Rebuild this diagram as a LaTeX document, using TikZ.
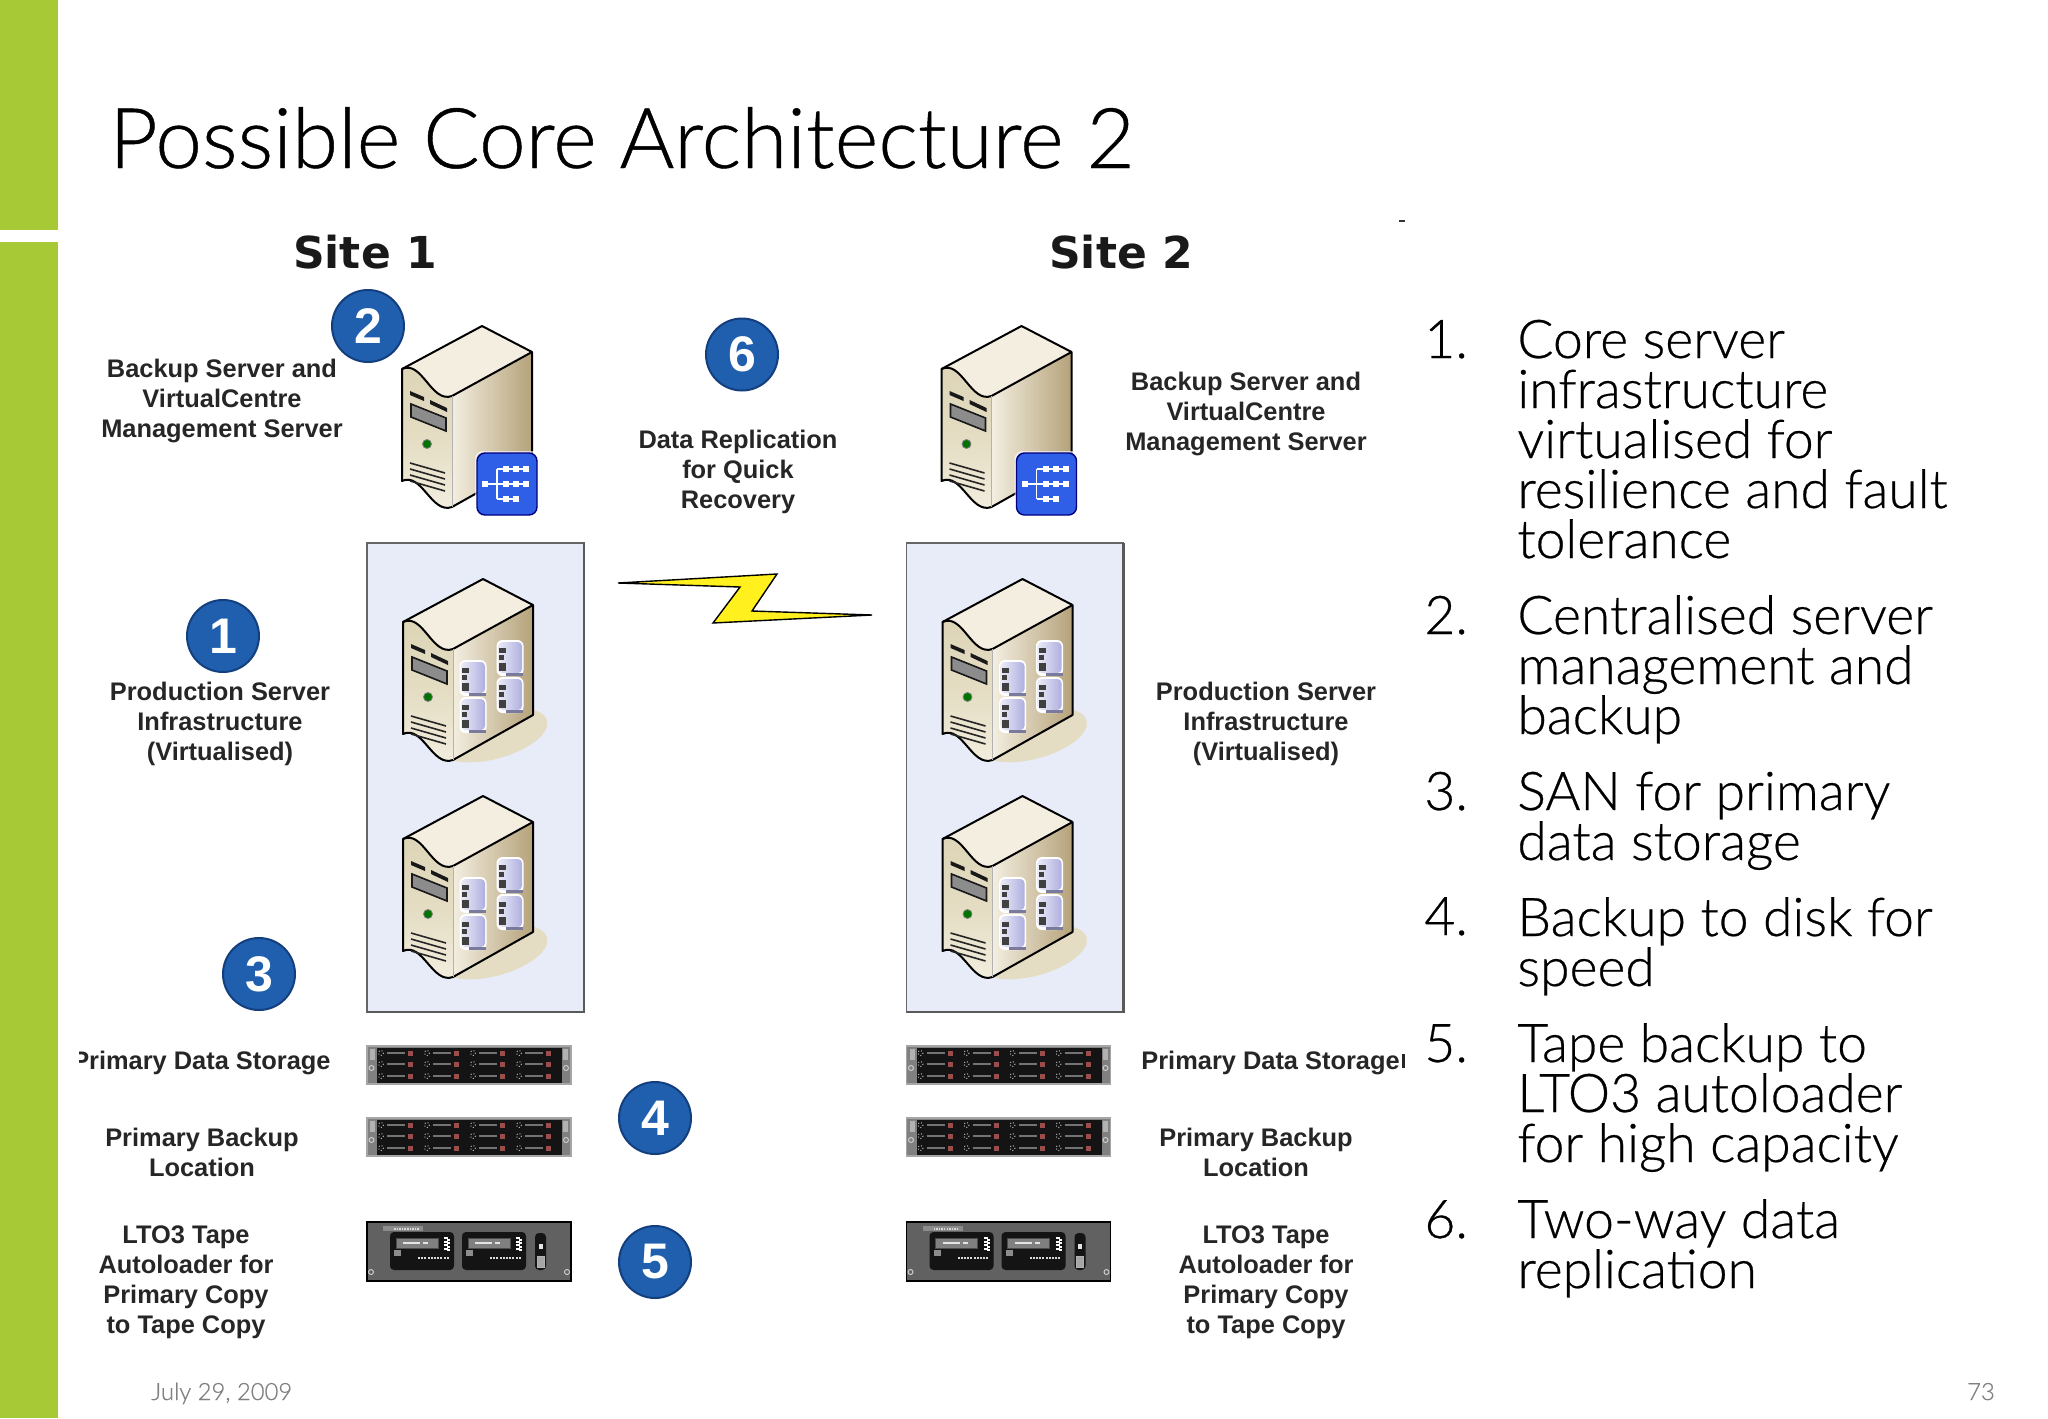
\documentclass[tikz,border=0pt]{standalone}
\usepackage{fontspec}
\setmainfont[RawFeature={embolden=0.5}]{Lato Light}
\newfontfamily\lab{Liberation Sans}
\newfontfamily\vb{DejaVu Sans}
\usetikzlibrary{shadings}
\definecolor{grn}{HTML}{A6C935}
\definecolor{badgeblue}{HTML}{1F5FAE}
\definecolor{badgeedge}{HTML}{143F7E}
\definecolor{bluebox}{HTML}{E7ECF8}
\definecolor{flash}{HTML}{FFF01E}
\definecolor{tan1}{HTML}{F3EEE0}
\definecolor{tan2}{HTML}{B5A27A}
\definecolor{tan3}{HTML}{DDD4B6}
\definecolor{tan4}{HTML}{E4DDC3}
\definecolor{iconblue}{HTML}{2E5FE6}
\definecolor{lav}{HTML}{AFAFE0}
\tikzset{
  x=0.5pt,y=-0.5pt,
  badge/.style={circle,fill=badgeblue,draw=badgeedge,line width=1pt,minimum size=36pt,inner sep=0pt,text=white,font={\lab\bfseries\fontsize{25}{25}\selectfont}},
  lbl/.style={align=center,inner sep=0pt,text=black!85,font={\lab\bfseries\fontsize{12.7}{15}\selectfont}},
  sitet/.style={inner sep=0pt,font={\vb\bfseries\fontsize{22}{24}\selectfont},text=black!90},
  li/.style={anchor=base west,inner sep=0pt,align=left,text=black,font={\lineskiplimit=-30pt\fontsize{26.7}{25}\selectfont}},
  num/.style={anchor=base west,inner sep=0pt,text=black,font={\fontsize{26.7}{25}\selectfont}},
  edge/.style={draw=black,line width=1pt,line join=round},
  vent/.style={draw=black!85,line width=0.8pt},
  tower/.pic={
    \fill[tan1] (0,0)--(50,26)--(-30,70) to[out=200,in=25] (-80,43)--cycle;
    \shade[left color=tan1,right color=tan2,shading angle=90] (50,26)--(50,136)--(-30,181)--(-30,70)--cycle;
    \shade[top color=tan3,bottom color=tan1,middle color=tan4] (-80,43) to[out=25,in=200] (-30,70)--(-30,181) to[out=200,in=25] (-80,155)--cycle;
    \draw[edge] (0,0)--(50,26)--(50,136)--(-30,181) to[out=200,in=25] (-80,155)--(-80,43)--cycle;
    \draw[edge] (-80,43) to[out=25,in=200] (-30,70)--(50,26);
    \draw[draw=black!30,line width=0.5pt] (-30,70)--(-30,181);
    \fill[black!90] (-72,65)--(-58,71)--(-58,75)--(-72,69)--cycle;
    \fill[black!90] (-52,74)--(-35,82)--(-35,86)--(-52,78)--cycle;
    \fill[black!45,draw=black!90,line width=0.8pt] (-71,78)--(-36,92)--(-36,105)--(-71,91)--cycle;
    \fill[green!45!black,draw=black!50,line width=0.4pt] (-55,118) circle (4.5);
    \foreach \d in {0,6,12,18}{\draw[vent] (-72,137+\d)--(-37,147+\d);}
  },
  minidisk/.pic={
    \fill[white,rounded corners=3pt] (-13.5,-18) rectangle (13.5,18);
    \shade[left color=lav!25,right color=lav,rounded corners=2pt] (-12,-16) rectangle (12,15);
    \fill[black!75] (-11,-10) rectangle (-4,-5);
    \fill[black!75] (-11,-3) rectangle (-6,2);
    \fill[black!75] (-11,5) rectangle (-4,13);
    \fill[lav!70!black] (-4,15) rectangle (13,18);
  },
  prod/.pic={
    \fill[tan4,rotate around={15:(10,156)}] (10,156) ellipse [x radius=28pt,y radius=12pt];
    \pic at (0,0) {tower};
    \pic at (-10,99) {minidisk};
    \pic at (-10,136) {minidisk};
    \pic at (27,79) {minidisk};
    \pic at (27,116) {minidisk};
  },
  storage/.pic={
    \fill[black!50] (0,0) rectangle (204,38);
    \draw[black!35,line width=0.6pt] (0,0) rectangle (204,38);
    \fill[black!92] (10,1.5) rectangle (195,36.5);
    \fill[black!30] (3,3) rectangle (8,14);
    \fill[black!30] (196,3) rectangle (201,14);
    \draw[white!80!black,line width=0.5pt] (4.5,22) circle (2.5);
    \draw[white!80!black,line width=0.5pt] (199,22) circle (2.5);
    \foreach \k in {0,1,2,3}{
      \foreach \yy in {7,18,30}{
        \draw[black!30,line width=0.5pt,densely dotted] (10+46*\k+4,\yy) circle (2.5);
        \draw[black!55,line width=0.9pt] (10+46*\k+10,\yy)--(10+46*\k+28,\yy);
        \fill[red!45!black!70!white] (10+46*\k+31,\yy-2.5) rectangle ++(5,5);
      }
    }
  },
  tapeunit/.pic={
    \fill[black!92,rounded corners=2pt] (0,0) rectangle (64,38);
    \fill[black!50,draw=black!70,line width=0.4pt] (6,6) rectangle (48,16);
    \fill[white!90!black] (13,10) rectangle (30,12);
    \fill[white!90!black] (33,10) rectangle (38,12);
    \foreach \i in {0,1,2,3}{\fill[white] (54,5+\i*3.5) rectangle ++(4,2);\fill[white] (57,6.5+\i*3.5) rectangle ++(3,2);}
    \foreach \i in {0,...,9}{\fill[white!85!black] (28+\i*3.2,25) rectangle ++(2,2);}
    \fill[black!45] (4,18) rectangle (11,24);
  },
  tape/.pic={
    \fill[black!62,draw=black,line width=0.8pt] (0,0) rectangle (204,59);
    \fill[black!45] (16,4) rectangle (56,9);
    \foreach \i in {0,...,9}{\fill[white!85!black] (27+\i*2.6,6) rectangle ++(1.5,1.5);}
    \pic at (23,10) {tapeunit};
    \pic at (95,10) {tapeunit};
    \fill[black!92,rounded corners=2pt] (168,11) rectangle (179,48);
    \fill[white!90!black] (171.5,22) rectangle (175.5,27);
    \fill[black!35,draw=white!70!black,line width=0.4pt] (170,34) rectangle (177,45);
    \draw[white!80!black,line width=0.5pt] (4,50) circle (2.5);
    \draw[white!80!black,line width=0.5pt] (200,50) circle (2.5);
  },
  badgeicon/.pic={
    \fill[white,opacity=0.6,rounded corners=4pt] (-2,-2) rectangle (64,64);
    \fill[iconblue,draw=blue!50!black,line width=0.7pt,rounded corners=4pt] (0,0) rectangle (60,62);
    \draw[white,line width=0.8pt] (8,31)--(30,31) (20,16)--(20,46) (20,16)--(49,16) (20,31)--(49,31) (20,46)--(39,46);
    \foreach \p in {(8,31),(29,16),(39,16),(49,16),(29,31),(39,31),(49,31),(29,46),(39,46)}{\fill[white] \p ++(-3,-3) rectangle ++(6,6);}
  },
  site/.pic={
    \fill[bluebox] (367,543) rectangle (584,1012);
    \draw[black!60,line width=0.7pt] (367,543) rectangle (584,1012);
    \draw[black!65,line width=1.1pt] (584,543)--(584,1012)--(367,1012);
    \pic at (482,326) {tower};
    \pic at (477,453) {badgeicon};
    \pic at (483,579) {prod};
    \pic at (483,796) {prod};
    \pic at (367,1046) {storage};
    \pic at (367,1118) {storage};
    \pic at (367,1222) {tape};
  }
}
\begin{document}
\begin{tikzpicture}
\useasboundingbox (0,0) rectangle (2048,1418);
\fill[white] (0,0) rectangle (2048,1418);
\fill[grn] (0,0) rectangle (58,230);
\fill[grn] (0,242) rectangle (58,1418);
\node[anchor=base west,inner sep=0pt,text=black,font={\fontsize{41.9}{50}\selectfont}] (title) at (109,168) {Possible Core Architecture 2};

\pic at (0,0) {site};
\pic at (539.5,0) {site};

\fill[flash,draw=black,line width=0.7pt,line join=miter] (618,583)--(777,574)--(752,611)--(872,615)--(713,623)--(740,587)--cycle;

\node[sitet] (s1) at (365,252) {Site 1};
\node[sitet] (s2) at (1121,252) {Site 2};

\node[badge] (b2) at (368,326) {2};
\node[badge] (b6) at (742,354.5) {6};
\node[badge] (b1) at (223,636) {1};
\node[badge] (b3) at (259,974) {3};
\node[badge] (b4) at (655,1118) {4};
\node[badge] (b5) at (655,1262) {5};

\node[lbl] (l1) at (222,400.5) {Backup Server and\\VirtualCentre\\Management Server};
\node[lbl] (l2) at (1246,413.5) {Backup Server and\\VirtualCentre\\Management Server};
\node[lbl] (l3) at (738,471.5) {Data Replication\\for Quick\\Recovery};
\node[lbl] (l4) at (220,723.5) {Production Server\\Infrastructure\\(Virtualised)};
\node[lbl] (l5) at (1266,723.5) {Production Server\\Infrastructure\\(Virtualised)};
\begin{scope}
\clip (79,1030) rectangle (340,1090);
\node[lbl,anchor=east] (l6) at (331,1062.5) {Primary Data Storage};
\end{scope}
\node[lbl,anchor=west] (l7) at (1141,1062.5) {Primary Data Storage};
\fill[black!85] (1402,1054) rectangle (1405,1068);
\node[lbl] (l8) at (202,1152) {Primary Backup\\Location};
\node[lbl] (l9) at (1256,1152) {Primary Backup\\Location};
\node[lbl] (l10) at (186,1282.5) {LTO3 Tape\\Autoloader for\\Primary Copy\\to Tape Copy};
\node[lbl] (l11) at (1266,1282.5) {LTO3 Tape\\Autoloader for\\Primary Copy\\to Tape Copy};

\fill[black!80] (1399,220) rectangle (1405,222);

\node[num] (n1) at (1424,358) {1.};
\node[li] (t1) at (1517,558) {Core server\\infrastructure\\virtualised for\\resilience and fault\\tolerance};
\node[num] (n2) at (1424,634) {2.};
\node[li] (t2) at (1517,734) {Centralised server\\management and\\backup};
\node[num] (n3) at (1424,810) {3.};
\node[li] (t3) at (1517,860) {SAN for primary\\data storage};
\node[num] (n4) at (1424,935) {4.};
\node[li] (t4) at (1517,986) {Backup to disk for\\speed};
\node[num] (n5) at (1424,1062) {5.};
\node[li] (t5) at (1517,1162) {Tape backup to\\LTO3 autoloader\\for high capacity};
\node[num] (n6) at (1424,1238) {6.};
\node[li] (t6) at (1517,1288) {Two-way data\\replication};

\node[anchor=base west,inner sep=0pt,text=black!50,font={\fontsize{11.9}{16}\selectfont}] (date) at (151,1400) {July 29, 2009};
\node[anchor=base,inner sep=0pt,text=black!50,font={\fontsize{11.9}{16}\selectfont}] (page) at (1981,1400) {73};
\end{tikzpicture}
\end{document}
